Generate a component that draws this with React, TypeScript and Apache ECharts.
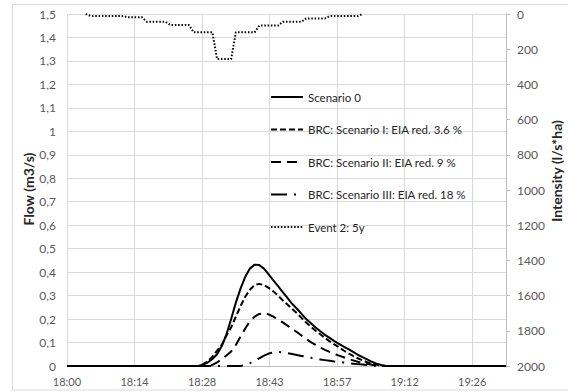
import React, { useEffect, useRef } from "react";
import * as echarts from "echarts";

// x values are minutes after 18:00
const xTickLabels = ["18:00", "18:14", "18:28", "18:43", "18:57", "19:12", "19:26"];
const xStep = 14.4;
const xMax = 93.6;
const flowTicksMax = 1.5;
const intensityMax = 2000;

const legendNames = [
  "Scenario 0",
  "BRC: Scenario I: EIA red. 3.6 %",
  "BRC: Scenario II: EIA red. 9 %",
  "BRC: Scenario III: EIA red. 18 %",
  "Event 2: 5y",
];

const scenario0: [number, number][] = [
  [0, 0], [28, 0], [29, 0.006], [30, 0.015], [31, 0.03], [32, 0.05], [33, 0.085],
  [34, 0.135], [35, 0.2], [36, 0.27], [37, 0.33], [38, 0.38], [39, 0.415],
  [40, 0.432], [41, 0.43], [42, 0.415], [43, 0.39], [44, 0.365], [45, 0.34],
  [46, 0.315], [47, 0.29], [48, 0.265], [49, 0.245], [50, 0.222], [51, 0.2],
  [52, 0.182], [53, 0.164], [54, 0.148], [55, 0.133], [56, 0.12], [57, 0.106],
  [58, 0.094], [59, 0.083], [60, 0.072], [61, 0.06], [62, 0.048], [63, 0.038],
  [64, 0.028], [65, 0.018], [66, 0.01], [67, 0.004], [68, 0], [93.6, 0],
];

const scenario1: [number, number][] = [
  [0, 0], [28, 0], [29, 0.008], [30, 0.02], [31, 0.04], [32, 0.065], [33, 0.09],
  [34, 0.13], [35, 0.165], [36, 0.21], [37, 0.255], [38, 0.295], [39, 0.325],
  [40, 0.345], [41, 0.35], [42, 0.345], [43, 0.333], [44, 0.318], [45, 0.3],
  [46, 0.28], [47, 0.262], [48, 0.244], [49, 0.225], [50, 0.205], [51, 0.185],
  [52, 0.167], [53, 0.15], [54, 0.135], [55, 0.12], [56, 0.105], [57, 0.092],
  [58, 0.08], [59, 0.066], [60, 0.054], [61, 0.043], [62, 0.033], [63, 0.024],
  [64, 0.016], [65, 0.01], [66, 0.005], [67, 0.001], [68, 0], [93.6, 0],
];

const scenario2: [number, number][] = [
  [0, 0], [30, 0], [31, 0.005], [32, 0.015], [33, 0.03], [34, 0.045], [35, 0.062],
  [36, 0.09], [37, 0.125], [38, 0.16], [39, 0.19], [40, 0.21], [41, 0.222],
  [42, 0.225], [43, 0.22], [44, 0.21], [45, 0.198], [46, 0.186], [47, 0.172],
  [48, 0.158], [49, 0.145], [50, 0.13], [51, 0.115], [52, 0.102], [53, 0.09],
  [54, 0.079], [55, 0.069], [56, 0.06], [57, 0.052], [58, 0.044], [59, 0.037],
  [60, 0.03], [61, 0.024], [62, 0.018], [63, 0.013], [64, 0.009], [65, 0.005],
  [66, 0.002], [67, 0], [93.6, 0],
];

const scenario3: [number, number][] = [
  [0, 0], [37, 0], [38, 0.005], [39, 0.012], [40, 0.022], [41, 0.033], [42, 0.044],
  [43, 0.053], [44, 0.058], [45, 0.06], [46, 0.058], [47, 0.055], [48, 0.051],
  [49, 0.047], [50, 0.043], [51, 0.039], [52, 0.035], [53, 0.031], [54, 0.028],
  [55, 0.025], [56, 0.022], [57, 0.019], [58, 0.017], [59, 0.015], [60, 0.012],
  [61, 0.01], [62, 0.008], [63, 0.006], [64, 0.004], [65, 0.002], [66, 0.001],
  [67, 0], [93.6, 0],
];

const event2: [number, number][] = [
  [4, 0], [5, 11], [12, 11], [13, 19], [16, 19], [17, 44], [21, 44], [22, 62],
  [26, 62], [27, 104], [31, 104], [32, 256], [35, 256], [36, 104], [40, 104],
  [41, 66], [45, 66], [46, 44], [50, 44], [51, 25], [55, 25], [56, 12], [62, 12],
  [63, 0],
];

const FONT = "Lato";

export default function App() {
  const ref = useRef<HTMLDivElement>(null);

  useEffect(() => {
    document.body.style.margin = "0";
    const chart = echarts.init(ref.current!, null, { renderer: "svg" });

    const lineSeries = (
      name: string,
      data: [number, number][],
      type: any,
      width: number,
      yAxisIndex = 0
    ) => ({
      name,
      type: "line",
      data,
      yAxisIndex,
      symbol: "none",
      showSymbol: false,
      smooth: false,
      z: 5,
      lineStyle: { color: "#000", width, type },
      itemStyle: { color: "#000" },
    });

    chart.setOption({
      animation: false,
      grid: { left: 67, right: 62, top: 14, bottom: 26, containLabel: false },
      legend: {
        orient: "vertical",
        left: 270,
        top: 90,
        padding: 0,
        itemWidth: 32,
        itemHeight: 14,
        itemGap: 18.5,
        itemStyle: { opacity: 0 },
        textStyle: { fontFamily: FONT, fontSize: 11.5, color: "#262626", lineHeight: 14 },
        data: legendNames,
      },
      xAxis: {
        type: "value",
        min: 0,
        max: xMax,
        interval: xStep,
        axisLine: { show: true, lineStyle: { color: "#bfbfbf", width: 1 } },
        axisTick: { show: false },
        axisLabel: {
          fontFamily: FONT,
          fontSize: 11,
          color: "#595959",
          margin: 10,
          showMaxLabel: false,
          formatter: (v: number) => {
            const i = Math.round(v / xStep);
            return Math.abs(i * xStep - v) < 1e-6 && i < xTickLabels.length ? xTickLabels[i] : "";
          },
        },
        splitLine: { show: true, lineStyle: { color: "#d9d9d9", width: 1 } },
      },
      yAxis: [
        {
          type: "value",
          min: 0,
          max: flowTicksMax,
          interval: 0.1,
          axisLine: { show: false },
          axisTick: { show: false },
          axisLabel: {
            fontFamily: FONT,
            fontSize: 12,
            color: "#595959",
            margin: 11,
            formatter: (v: number) => String(+v.toFixed(1)).replace(".", ","),
          },
          splitLine: { show: true, lineStyle: { color: "#d9d9d9", width: 1 } },
        },
        {
          type: "value",
          position: "right",
          inverse: true,
          min: 0,
          max: intensityMax,
          interval: 200,
          axisLine: { show: true, lineStyle: { color: "#bfbfbf", width: 1 } },
          axisTick: { show: true, inside: false, length: 4, lineStyle: { color: "#bfbfbf" } },
          axisLabel: {
            fontFamily: FONT,
            fontSize: 12,
            color: "#595959",
            margin: 11,
            formatter: (v: number) => String(Math.round(v)),
          },
          splitLine: { show: false },
        },
      ],
      graphic: [
        {
          type: "rect",
          z: -10,
          shape: { x: 12.5, y: 4.5, width: 570, height: 385.5 },
          style: { fill: "none", stroke: "#d9d9d9", lineWidth: 1 },
        },
        {
          type: "text",
          x: 28,
          y: 189,
          rotation: Math.PI / 2,
          style: {
            text: "Flow (m3/s)",
            font: `bold 14px ${FONT}`,
            fill: "#262626",
            align: "center",
            verticalAlign: "middle",
          },
        },
        {
          type: "text",
          x: 556,
          y: 171,
          rotation: Math.PI / 2,
          style: {
            text: "Intensity (l/s*ha)",
            font: `bold 14px ${FONT}`,
            fill: "#262626",
            align: "center",
            verticalAlign: "middle",
          },
        },
      ],
      series: [
        lineSeries(legendNames[0], scenario0, "solid", 2),
        lineSeries(legendNames[1], scenario1, [6, 3], 2),
        lineSeries(legendNames[2], scenario2, [10, 6], 2),
        lineSeries(legendNames[3], scenario3, [16, 7, 2, 7], 2),
        lineSeries(legendNames[4], event2, [1.5, 1.8], 2, 1),
      ],
    });

    return () => chart.dispose();
  }, []);

  return <div ref={ref} style={{ width: 568, height: 392 }} />;
}
